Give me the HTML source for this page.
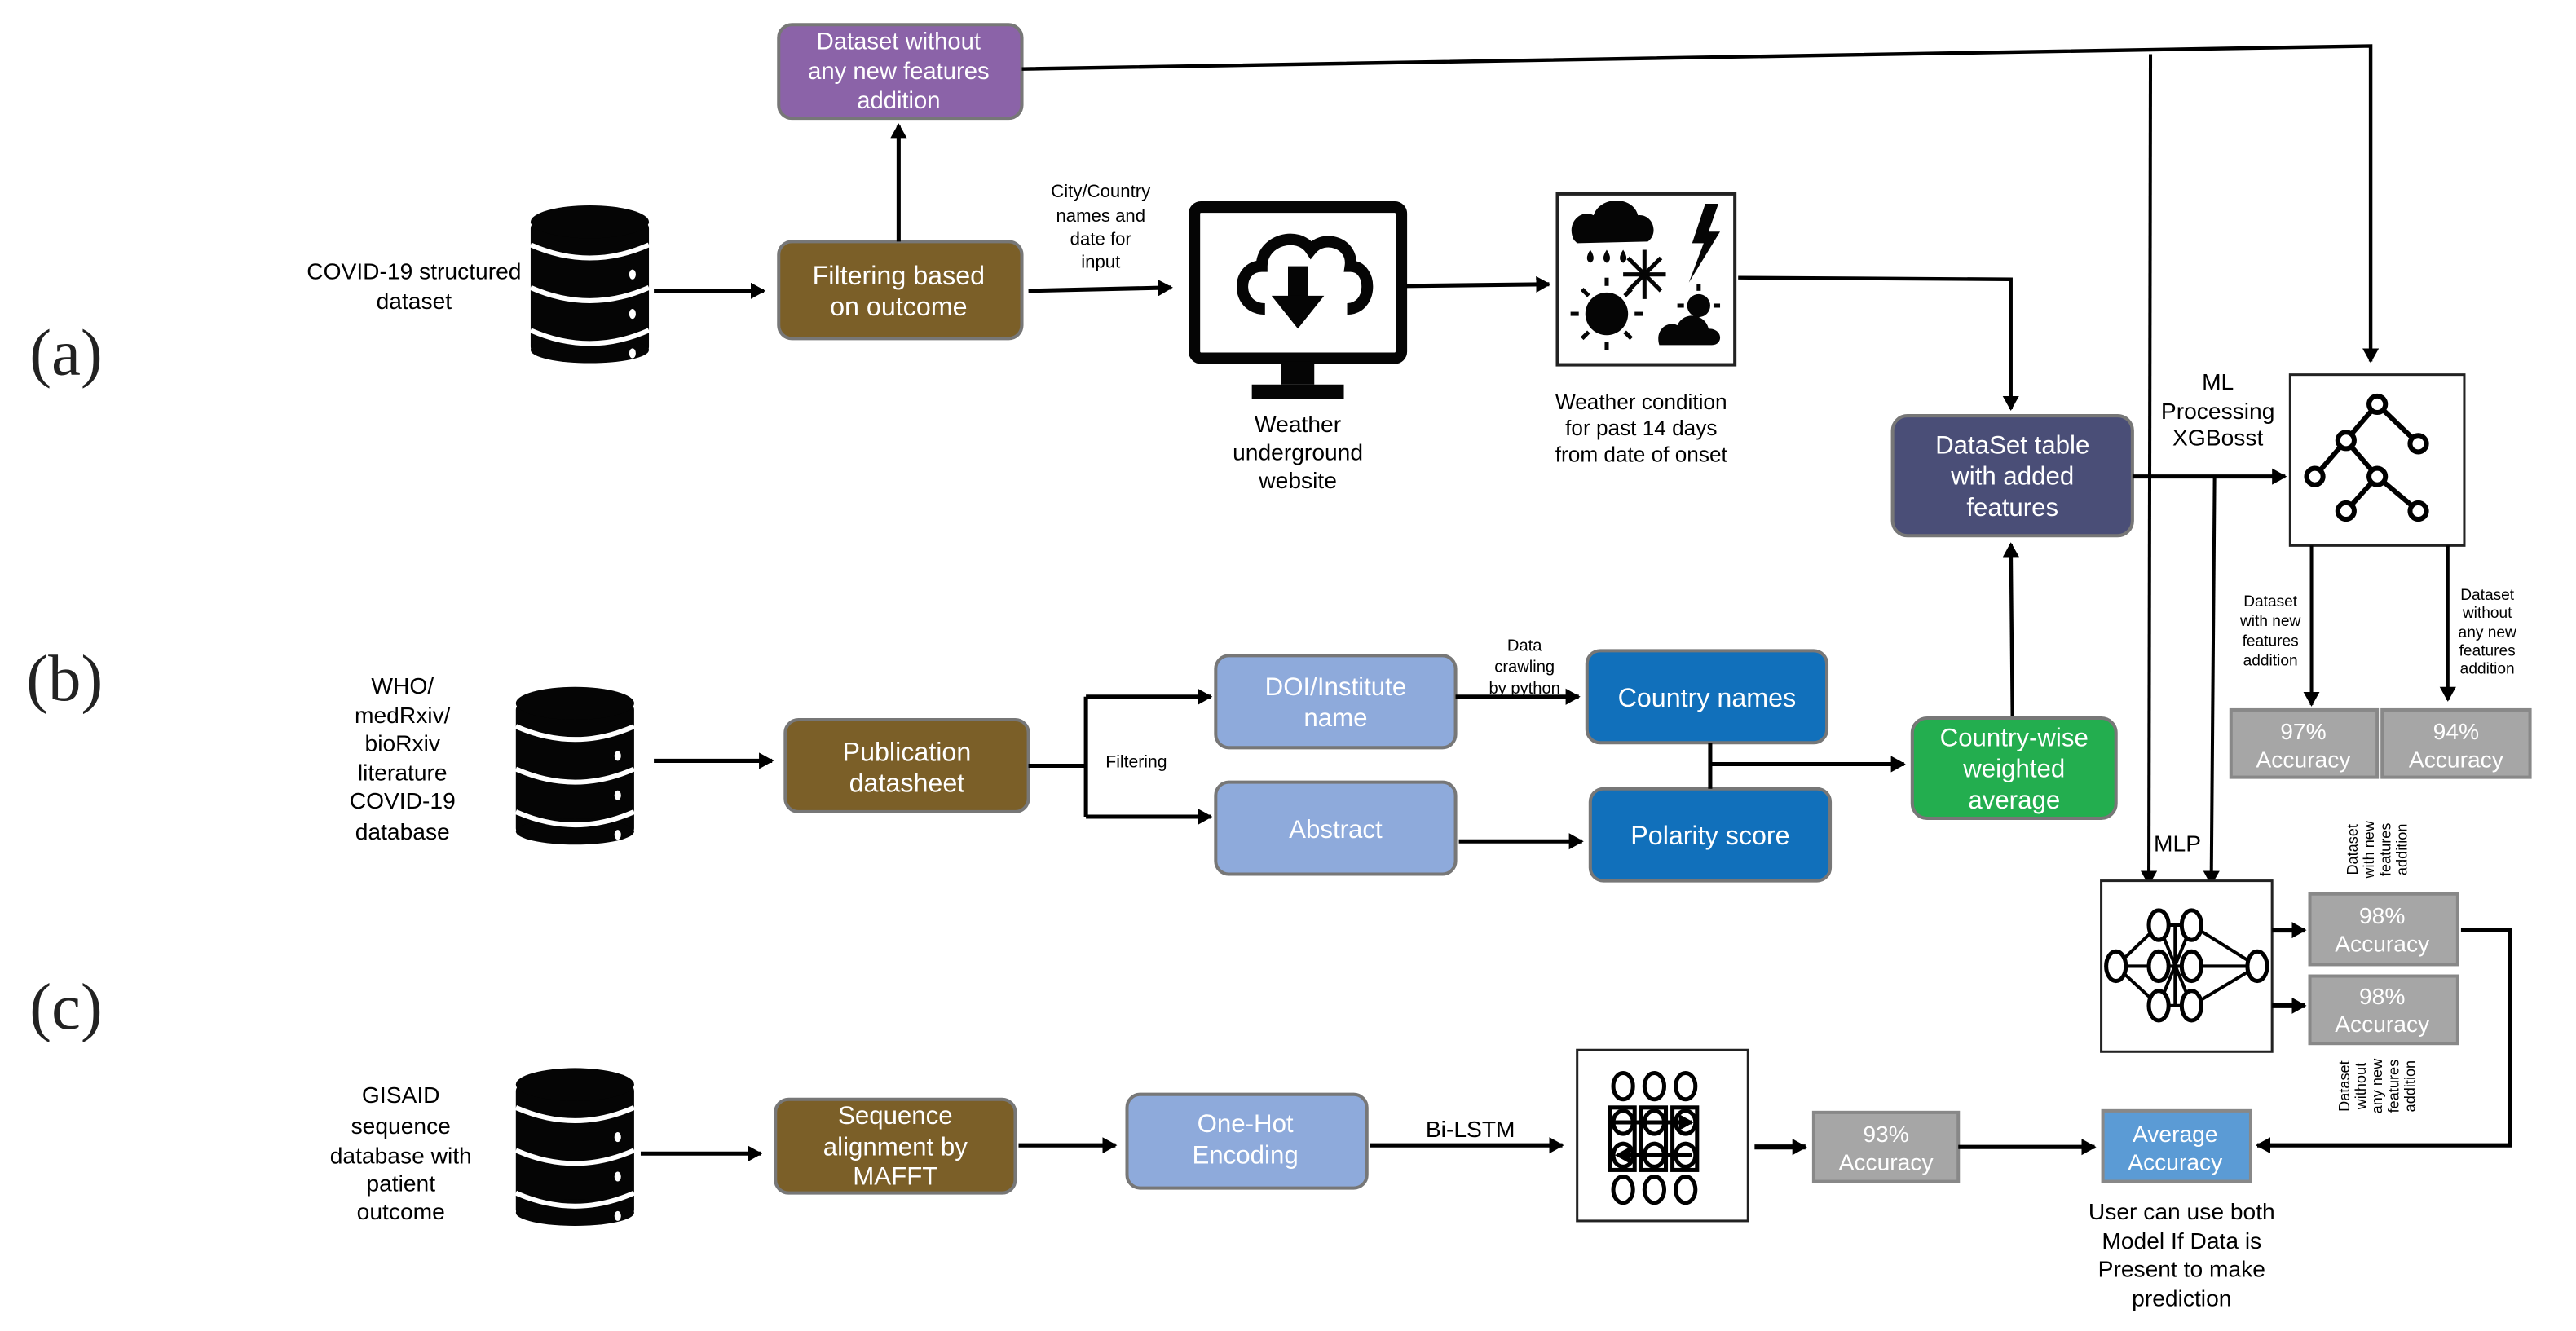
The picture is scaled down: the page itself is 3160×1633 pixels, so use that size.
<!DOCTYPE html>
<html><head><meta charset="utf-8"><style>
html,body{margin:0;padding:0;background:#fff;}
svg{display:block;}
text{font-family:"Liberation Sans Narrow","Liberation Sans",sans-serif;}
</style></head><body>
<svg width="3160" height="1633" viewBox="0 0 1568 810" preserveAspectRatio="none" xmlns="http://www.w3.org/2000/svg">
<defs>
<marker id="a" markerWidth="10" markerHeight="10" refX="8" refY="5" orient="auto" markerUnits="userSpaceOnUse"><path d="M0,0 L9,5 L0,10 z" fill="#000"/></marker>
<g id="db">
 <rect x="0" y="10" width="72" height="80" rx="4" fill="#050505"/>
 <ellipse cx="36" cy="10" rx="36" ry="10" fill="#050505"/>
 <ellipse cx="36" cy="88" rx="36" ry="8" fill="#050505"/>
 <path d="M0,24 Q36,40 72,24" stroke="#fff" stroke-width="3" fill="none"/>
 <path d="M0,50 Q36,66 72,50" stroke="#fff" stroke-width="3" fill="none"/>
 <path d="M0,76 Q36,92 72,76" stroke="#fff" stroke-width="3" fill="none"/>
 <ellipse cx="62" cy="42" rx="2" ry="3" fill="#fff"/>
 <ellipse cx="62" cy="66" rx="2" ry="3" fill="#fff"/>
 <ellipse cx="62" cy="90" rx="2" ry="3" fill="#fff"/>
</g>
</defs>

<g font-size="40" fill="#222">
<text x="18" y="228" style="font-family:'Liberation Serif',serif">(a)</text>
<text x="16" y="426" style="font-family:'Liberation Serif',serif">(b)</text>
<text x="18" y="626" style="font-family:'Liberation Serif',serif">(c)</text>
</g>

<!-- ===== (a) ===== -->
<g font-size="14" text-anchor="middle" fill="#000">
<text x="252" y="170">COVID-19 structured</text>
<text x="252" y="188">dataset</text>
</g>
<use href="#db" x="323" y="125"/>
<line x1="398" y1="177" x2="465" y2="177" stroke="#000" stroke-width="2.5" marker-end="url(#a)"/>

<rect x="474" y="147" width="148" height="59" rx="8" fill="#7b5f28" stroke="#777" stroke-width="2"/>
<g font-size="16" fill="#fff" text-anchor="middle"><text x="547" y="173">Filtering based</text><text x="547" y="192">on outcome</text></g>

<rect x="474" y="15" width="148" height="57" rx="8" fill="#8b63a8" stroke="#777" stroke-width="2"/>
<g font-size="14.5" fill="#fff" text-anchor="middle"><text x="547" y="30">Dataset  without</text><text x="547" y="48">any new features</text><text x="547" y="66">addition</text></g>
<line x1="547" y1="147" x2="547" y2="76" stroke="#000" stroke-width="2.5" marker-end="url(#a)"/>

<polyline points="622,42 1443,28 1443,220" fill="none" stroke="#000" stroke-width="2.2" marker-end="url(#a)"/>
<line x1="1309" y1="33" x2="1308" y2="538" stroke="#000" stroke-width="2" marker-end="url(#a)"/>

<g font-size="11" text-anchor="middle"><text x="670" y="120">City/Country</text><text x="670" y="135">names and</text><text x="670" y="149">date for</text><text x="670" y="163">input</text></g>
<line x1="626" y1="177" x2="713" y2="175" stroke="#000" stroke-width="2.5" marker-end="url(#a)"/>

<rect x="727" y="126" width="126" height="92" rx="4" fill="#fff" stroke="#050505" stroke-width="7"/>
<rect x="780" y="220" width="20" height="14" fill="#050505"/>
<rect x="762" y="234" width="56" height="9" fill="#050505"/>
<path d="M770,188 C752,188 752,162 768,162 C768,146 790,140 798,152 C806,142 824,148 822,162 C836,162 836,188 820,188" fill="none" stroke="#050505" stroke-width="7"/>
<rect x="784" y="162" width="12" height="20" fill="#050505"/>
<path d="M774,180 L806,180 L790,200 z" fill="#050505"/>
<g font-size="14" text-anchor="middle"><text x="790" y="263">Weather</text><text x="790" y="280">underground</text><text x="790" y="297">website</text></g>
<line x1="856" y1="174" x2="943" y2="173" stroke="#000" stroke-width="2.5" marker-end="url(#a)"/>

<rect x="948" y="118" width="108" height="104" fill="#fff" stroke="#222" stroke-width="2"/>
<g fill="#050505">
<path d="M958,146 C953,136 962,127 970,131 C974,119 994,119 997,131 C1006,130 1010,142 1003,147 L960,148 z"/>
<path d="M968,152 q-4,6 0,8 q4,-2 0,-8z"/><path d="M978,152 q-4,6 0,8 q4,-2 0,-8z"/><path d="M988,152 q-4,6 0,8 q4,-2 0,-8z"/>
<path d="M1038,124 L1030,148 L1037,148 L1028,172 L1047,141 L1040,141 L1046,124 z"/>
<circle cx="978" cy="191" r="13"/>
<circle cx="1034" cy="186" r="7"/>
<path d="M1010,210 C1007,200 1016,195 1021,198 C1025,189 1038,191 1040,200 C1049,200 1049,210 1042,210 L1012,210 z"/>
</g>
<g stroke="#050505" stroke-width="2.5">
<line x1="978" y1="169" x2="978" y2="174"/><line x1="978" y1="208" x2="978" y2="213"/><line x1="956" y1="191" x2="961" y2="191"/><line x1="995" y1="191" x2="1000" y2="191"/>
<line x1="963" y1="176" x2="967" y2="180"/><line x1="989" y1="202" x2="993" y2="206"/><line x1="963" y1="206" x2="967" y2="202"/><line x1="989" y1="180" x2="993" y2="176"/>
<line x1="1001" y1="152" x2="1001" y2="182"/><line x1="988" y1="167" x2="1014" y2="167"/><line x1="991" y1="157" x2="1011" y2="177"/><line x1="991" y1="177" x2="1011" y2="157"/>
<line x1="1034" y1="173" x2="1034" y2="177"/><line x1="1021" y1="186" x2="1025" y2="186"/><line x1="1043" y1="186" x2="1047" y2="186"/>
</g>
<g font-size="13" text-anchor="middle"><text x="999" y="249">Weather condition</text><text x="999" y="265">for past 14 days</text><text x="999" y="281">from date of onset</text></g>
<polyline points="1058,169 1224,170 1224,249" fill="none" stroke="#000" stroke-width="2.2" marker-end="url(#a)"/>

<rect x="1152" y="253" width="146" height="73" rx="9" fill="#4a4e77" stroke="#777" stroke-width="2"/>
<g font-size="15.5" fill="#fff" text-anchor="middle"><text x="1225" y="276">DataSet table</text><text x="1225" y="295">with added</text><text x="1225" y="314">features</text></g>
<line x1="1298" y1="290" x2="1391" y2="290" stroke="#000" stroke-width="2.5" marker-end="url(#a)"/>
<line x1="1348" y1="290" x2="1346" y2="538" stroke="#000" stroke-width="2" marker-end="url(#a)"/>
<g font-size="14" text-anchor="middle"><text x="1350" y="237">ML</text><text x="1350" y="255">Processing</text><text x="1350" y="271">XGBosst</text></g>

<rect x="1394" y="228" width="106" height="104" fill="#fff" stroke="#222" stroke-width="1.5"/>
<g stroke="#000" stroke-width="3" fill="none">
<polyline points="1409,290 1428,268 1447,246 1472,270"/>
<polyline points="1428,268 1447,290 1428,311"/>
<line x1="1447" y1="290" x2="1472" y2="311"/>
</g>
<g fill="#fff" stroke="#000" stroke-width="3">
<circle cx="1447" cy="246" r="5"/><circle cx="1428" cy="268" r="5"/><circle cx="1472" cy="270" r="5"/><circle cx="1409" cy="290" r="5"/><circle cx="1447" cy="290" r="5"/><circle cx="1428" cy="311" r="5"/><circle cx="1472" cy="311" r="5"/>
</g>
<line x1="1407" y1="332" x2="1407" y2="429" stroke="#000" stroke-width="2" marker-end="url(#a)"/>
<line x1="1490" y1="332" x2="1490" y2="426" stroke="#000" stroke-width="2" marker-end="url(#a)"/>
<g font-size="9.5" text-anchor="middle"><text x="1382" y="369">Dataset</text><text x="1382" y="381">with new</text><text x="1382" y="393">features</text><text x="1382" y="405">addition</text></g>
<g font-size="9.5" text-anchor="middle"><text x="1514" y="365">Dataset</text><text x="1514" y="376">without</text><text x="1514" y="388">any new</text><text x="1514" y="399">features</text><text x="1514" y="410">addition</text></g>
<rect x="1358" y="432" width="89" height="41" fill="#a6a6a6" stroke="#888" stroke-width="2"/>
<rect x="1450" y="432" width="90" height="41" fill="#a6a6a6" stroke="#888" stroke-width="2"/>
<g font-size="14" fill="#fff" text-anchor="middle"><text x="1402" y="450">97%</text><text x="1402" y="467">Accuracy</text><text x="1495" y="450">94%</text><text x="1495" y="467">Accuracy</text></g>

<!-- ===== (b) ===== -->
<g font-size="14" text-anchor="middle"><text x="245" y="422">WHO/</text><text x="245" y="440">medRxiv/</text><text x="245" y="457">bioRxiv</text><text x="245" y="475">literature</text><text x="245" y="492">COVID-19</text><text x="245" y="511">database</text></g>
<use href="#db" x="314" y="418"/>
<line x1="398" y1="463" x2="470" y2="463" stroke="#000" stroke-width="2.5" marker-end="url(#a)"/>
<rect x="478" y="438" width="148" height="56" rx="8" fill="#7b5f28" stroke="#777" stroke-width="2"/>
<g font-size="16" fill="#fff" text-anchor="middle"><text x="552" y="463">Publication</text><text x="552" y="482">datasheet</text></g>
<polyline points="626,466 661,466" fill="none" stroke="#000" stroke-width="2.5"/>
<line x1="661" y1="424" x2="661" y2="497" stroke="#000" stroke-width="2.5"/>
<line x1="661" y1="424" x2="737" y2="424" stroke="#000" stroke-width="2.5" marker-end="url(#a)"/>
<line x1="661" y1="497" x2="737" y2="497" stroke="#000" stroke-width="2.5" marker-end="url(#a)"/>
<text x="673" y="467" font-size="10.5">Filtering</text>
<rect x="740" y="399" width="146" height="56" rx="8" fill="#8eaadb" stroke="#777" stroke-width="2"/>
<g font-size="15.5" fill="#fff" text-anchor="middle"><text x="813" y="423">DOI/Institute</text><text x="813" y="442">name</text></g>
<rect x="740" y="476" width="146" height="56" rx="8" fill="#8eaadb" stroke="#777" stroke-width="2"/>
<text x="813" y="510" font-size="15.5" fill="#fff" text-anchor="middle">Abstract</text>
<g font-size="10" text-anchor="middle"><text x="928" y="396">Data</text><text x="928" y="409">crawling</text><text x="928" y="422">by python</text></g>
<line x1="886" y1="424" x2="961" y2="424" stroke="#000" stroke-width="2.5" marker-end="url(#a)"/>
<line x1="888" y1="512" x2="963" y2="512" stroke="#000" stroke-width="2.5" marker-end="url(#a)"/>
<rect x="966" y="396" width="146" height="56" rx="8" fill="#1170bb" stroke="#777" stroke-width="2"/>
<text x="1039" y="430" font-size="16" fill="#fff" text-anchor="middle">Country names</text>
<rect x="968" y="480" width="146" height="56" rx="8" fill="#1170bb" stroke="#777" stroke-width="2"/>
<text x="1041" y="514" font-size="16" fill="#fff" text-anchor="middle">Polarity score</text>
<line x1="1041" y1="452" x2="1041" y2="480" stroke="#000" stroke-width="2.5"/>
<line x1="1041" y1="465" x2="1159" y2="465" stroke="#000" stroke-width="2.5" marker-end="url(#a)"/>
<rect x="1164" y="437" width="124" height="61" rx="9" fill="#23ae4f" stroke="#777" stroke-width="2"/>
<g font-size="15.5" fill="#fff" text-anchor="middle"><text x="1226" y="454">Country-wise</text><text x="1226" y="473">weighted</text><text x="1226" y="492">average</text></g>
<line x1="1225" y1="436" x2="1224" y2="331" stroke="#000" stroke-width="2.2" marker-end="url(#a)"/>

<text x="1311" y="518" font-size="14">MLP</text>
<rect x="1279" y="536" width="104" height="104" fill="#fff" stroke="#222" stroke-width="1.5"/>
<g stroke="#000" stroke-width="2" fill="none">
<line x1="1288" y1="588" x2="1314" y2="563"/><line x1="1288" y1="588" x2="1314" y2="612"/><line x1="1288" y1="588" x2="1374" y2="588"/>
<line x1="1314" y1="563" x2="1334" y2="612"/><line x1="1314" y1="612" x2="1334" y2="563"/><line x1="1314" y1="563" x2="1334" y2="563"/><line x1="1314" y1="612" x2="1334" y2="612"/>
<line x1="1334" y1="563" x2="1374" y2="588"/><line x1="1334" y1="612" x2="1374" y2="588"/>
<line x1="1324" y1="563" x2="1324" y2="612"/>
</g>
<g fill="#fff" stroke="#000" stroke-width="2.5">
<ellipse cx="1288" cy="588" rx="6" ry="9"/>
<ellipse cx="1314" cy="563" rx="6" ry="9"/><ellipse cx="1314" cy="588" rx="6" ry="9"/><ellipse cx="1314" cy="612" rx="6" ry="9"/>
<ellipse cx="1334" cy="563" rx="6" ry="9"/><ellipse cx="1334" cy="588" rx="6" ry="9"/><ellipse cx="1334" cy="612" rx="6" ry="9"/>
<ellipse cx="1374" cy="588" rx="6" ry="9"/>
</g>
<line x1="1383" y1="566" x2="1403" y2="566" stroke="#000" stroke-width="3" marker-end="url(#a)"/>
<line x1="1383" y1="612" x2="1403" y2="612" stroke="#000" stroke-width="3" marker-end="url(#a)"/>
<rect x="1406" y="544" width="90" height="43" fill="#a6a6a6" stroke="#888" stroke-width="2"/>
<rect x="1406" y="594" width="90" height="41" fill="#a6a6a6" stroke="#888" stroke-width="2"/>
<g font-size="14" fill="#fff" text-anchor="middle"><text x="1450" y="562">98%</text><text x="1450" y="579">Accuracy</text><text x="1450" y="611">98%</text><text x="1450" y="628">Accuracy</text></g>
<g font-size="9" text-anchor="middle" style="font-family:'Liberation Sans',sans-serif">
<g transform="translate(1445,517) rotate(-90)"><text x="0" y="-10">Dataset</text><text x="0" y="0">with new</text><text x="0" y="10">features</text><text x="0" y="20">addition</text></g>
<g transform="translate(1440,661) rotate(-90)"><text x="0" y="-10">Dataset</text><text x="0" y="0">without</text><text x="0" y="10">any new</text><text x="0" y="20">features</text><text x="0" y="30">addition</text></g>
</g>
<polyline points="1498,566 1528,566 1528,697 1374,697" fill="none" stroke="#000" stroke-width="2.5" marker-end="url(#a)"/>

<!-- ===== (c) ===== -->
<g font-size="14" text-anchor="middle"><text x="244" y="671">GISAID</text><text x="244" y="690">sequence</text><text x="244" y="708">database with</text><text x="244" y="725">patient</text><text x="244" y="742">outcome</text></g>
<use href="#db" x="314" y="650"/>
<line x1="390" y1="702" x2="463" y2="702" stroke="#000" stroke-width="2.5" marker-end="url(#a)"/>
<rect x="472" y="669" width="146" height="57" rx="8" fill="#7b5f28" stroke="#777" stroke-width="2"/>
<g font-size="15.5" fill="#fff" text-anchor="middle"><text x="545" y="684">Sequence</text><text x="545" y="703">alignment by</text><text x="545" y="721">MAFFT</text></g>
<line x1="620" y1="697" x2="679" y2="697" stroke="#000" stroke-width="2.5" marker-end="url(#a)"/>
<rect x="686" y="666" width="146" height="57" rx="8" fill="#8eaadb" stroke="#777" stroke-width="2"/>
<g font-size="15.5" fill="#fff" text-anchor="middle"><text x="758" y="689">One-Hot</text><text x="758" y="708">Encoding</text></g>
<line x1="834" y1="697" x2="951" y2="697" stroke="#000" stroke-width="2.5" marker-end="url(#a)"/>
<text x="895" y="692" font-size="14" text-anchor="middle">Bi-LSTM</text>
<rect x="960" y="639" width="104" height="104" fill="#fff" stroke="#222" stroke-width="1.5"/>
<g fill="none" stroke="#000" stroke-width="2.5">
<ellipse cx="988" cy="661" rx="6" ry="8"/><ellipse cx="1007" cy="661" rx="6" ry="8"/><ellipse cx="1026" cy="661" rx="6" ry="8"/>
<ellipse cx="988" cy="724" rx="6" ry="8"/><ellipse cx="1007" cy="724" rx="6" ry="8"/><ellipse cx="1026" cy="724" rx="6" ry="8"/>
<rect x="980" y="674" width="15" height="38"/><rect x="999" y="674" width="15" height="38"/><rect x="1018" y="674" width="15" height="38"/>
<ellipse cx="988" cy="683" rx="6" ry="7"/><ellipse cx="1007" cy="683" rx="6" ry="7"/><ellipse cx="1026" cy="683" rx="6" ry="7"/>
<ellipse cx="988" cy="703" rx="6" ry="7"/><ellipse cx="1007" cy="703" rx="6" ry="7"/><ellipse cx="1026" cy="703" rx="6" ry="7"/>
</g>
<line x1="982" y1="683" x2="1030" y2="683" stroke="#000" stroke-width="2.5" marker-end="url(#a)"/>
<line x1="1030" y1="703" x2="984" y2="703" stroke="#000" stroke-width="2.5" marker-end="url(#a)"/>
<line x1="1068" y1="698" x2="1099" y2="698" stroke="#000" stroke-width="3" marker-end="url(#a)"/>
<rect x="1104" y="677" width="88" height="42" fill="#a6a6a6" stroke="#888" stroke-width="2"/>
<g font-size="14" fill="#fff" text-anchor="middle"><text x="1148" y="695">93%</text><text x="1148" y="712">Accuracy</text></g>
<line x1="1192" y1="698" x2="1275" y2="698" stroke="#000" stroke-width="2.5" marker-end="url(#a)"/>
<rect x="1280" y="676" width="90" height="43" fill="#5b9bd5" stroke="#888" stroke-width="2"/>
<g font-size="14" fill="#fff" text-anchor="middle"><text x="1324" y="695">Average</text><text x="1324" y="712">Accuracy</text></g>
<g font-size="14" text-anchor="middle"><text x="1328" y="742">User can use both</text><text x="1328" y="760">Model If Data is</text><text x="1328" y="777">Present  to make</text><text x="1328" y="795">prediction</text></g>
</svg>
</body></html>
